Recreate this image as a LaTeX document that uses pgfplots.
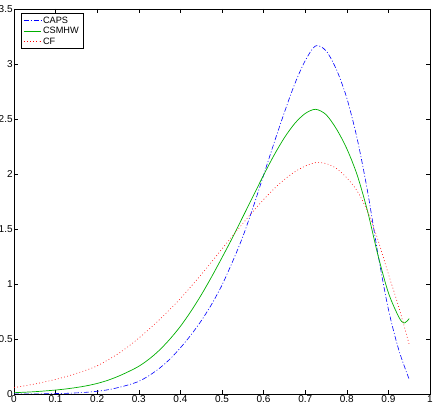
\documentclass[border=0pt]{standalone}
\usepackage{fontspec}
\setmainfont{Liberation Sans}
\usepackage{pgfplots}
\pgfplotsset{compat=1.18}
\begin{document}
\begin{tikzpicture}
\begin{axis}[
  name=ax,
  scale only axis,
  width=416pt, height=385pt,
  xmin=0, xmax=1, ymin=0, ymax=3.5,
  xtick={0,0.1,...,1}, ytick={0,0.5,...,3.5},
  xticklabels={0,0.1,0.2,0.3,0.4,0.5,0.6,0.7,0.8,0.9,1},
  yticklabels={0,0.5,1,1.5,2,2.5,3,3.5},
  tick align=inside, tick pos=both,
  major tick length=4pt,
  tick style={black, line width=0.4pt},
  axis line style={black, line width=0.6pt},
  /pgf/number format/assume math mode=true,
  tick label style={font=\fontsize{10}{11}\selectfont, inner sep=1.2pt},
  legend style={at={(0,1)}, anchor=north west, xshift=6.7pt, yshift=-4.3pt,
    font=\fontsize{9.2}{10}\selectfont, inner xsep=2.5pt, inner ysep=1.2pt, row sep=-1.5pt,
    draw=black, line width=0.5pt, cells={anchor=west}},
  legend image post style={line width=0.5pt},
]
\addplot[blue, line width=0.6pt, dash pattern=on 5pt off 2pt on 1pt off 2pt, smooth] coordinates {
(0.000,0.000) (0.025,0.000) (0.050,0.001) (0.075,0.002) (0.100,0.004) (0.125,0.006)
(0.150,0.010) (0.175,0.016) (0.200,0.025) (0.225,0.038) (0.250,0.058) (0.275,0.083)
(0.300,0.115) (0.325,0.168) (0.350,0.235) (0.375,0.318) (0.400,0.420) (0.425,0.535)
(0.450,0.665) (0.475,0.815) (0.500,0.990) (0.525,1.200) (0.550,1.430) (0.575,1.700)
(0.600,1.990) (0.625,2.280) (0.650,2.560) (0.675,2.820) (0.700,3.030) (0.725,3.165)
(0.750,3.120) (0.775,2.950) (0.800,2.690) (0.825,2.320) (0.850,1.840) (0.875,1.270)
(0.900,0.770) (0.925,0.400) (0.950,0.133)
};
\addlegendentry{CAPS}
\addplot[color={rgb,255:red,0;green,175;blue,0}, line width=0.7pt, smooth] coordinates {
(0.000,0.012) (0.025,0.016) (0.050,0.021) (0.075,0.028) (0.100,0.036) (0.125,0.046)
(0.150,0.059) (0.175,0.075) (0.200,0.096) (0.225,0.124) (0.250,0.160) (0.275,0.203)
(0.300,0.252) (0.325,0.318) (0.350,0.400) (0.375,0.500) (0.400,0.615) (0.425,0.750)
(0.450,0.900) (0.475,1.065) (0.500,1.240) (0.525,1.420) (0.550,1.610) (0.575,1.800)
(0.600,1.990) (0.625,2.170) (0.650,2.330) (0.675,2.460) (0.700,2.550) (0.725,2.588)
(0.750,2.540) (0.775,2.410) (0.800,2.230) (0.825,1.990) (0.850,1.660) (0.875,1.260)
(0.900,0.920) (0.925,0.700) (0.9375,0.645) (0.950,0.685)
};
\addlegendentry{CSMHW}
\addplot[red, line width=0.6pt, dash pattern=on 0.8pt off 2.4pt, smooth] coordinates {
(0.000,0.058) (0.025,0.074) (0.050,0.091) (0.075,0.111) (0.100,0.133) (0.125,0.158)
(0.150,0.187) (0.175,0.219) (0.200,0.256) (0.225,0.308) (0.250,0.365) (0.275,0.433)
(0.300,0.508) (0.325,0.590) (0.350,0.677) (0.375,0.770) (0.400,0.868) (0.425,0.975)
(0.450,1.085) (0.475,1.200) (0.500,1.318) (0.525,1.435) (0.550,1.550) (0.575,1.662)
(0.600,1.768) (0.625,1.865) (0.650,1.950) (0.675,2.020) (0.700,2.072) (0.725,2.103)
(0.750,2.095) (0.775,2.050) (0.800,1.965) (0.825,1.845) (0.850,1.660) (0.875,1.400)
(0.900,1.090) (0.925,0.790) (0.950,0.450)
};
\addlegendentry{CF}
\end{axis}
\pgfresetboundingbox
\path ([shift={(-14pt,-15pt)}]ax.south west) rectangle ([shift={(6pt,9pt)}]ax.north east);
\end{tikzpicture}
\end{document}
